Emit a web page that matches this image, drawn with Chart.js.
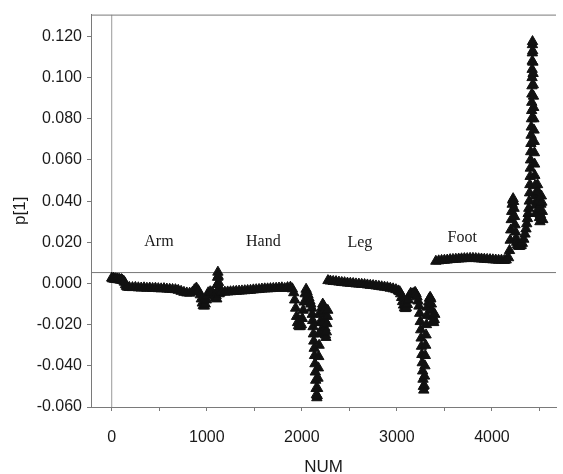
<!DOCTYPE html>
<html>
<head>
<meta charset="utf-8">
<script src="https://cdn.jsdelivr.net/npm/chart.js@4.4.1/dist/chart.umd.min.js"></script>
<style>
html,body{margin:0;padding:0;background:#fff;}
#wrap{width:563px;height:474px;position:relative;}
</style>
</head>
<body>
<div id="wrap"><canvas id="c" width="563" height="474"></canvas></div>
<script>
// ---- data ----
const num = [
  0,10,20,31,42,52,63,73,83,93,104,114,125,135,145,155,166,
  186,218,249,280,310,340,370,400,430,460,490,520,550,580,610,640,670,700,730,760,790,820,850,870,891,912,
  932,943,953,963,974,984,995,1005,1015,1036,1057,1077,1088,1098,
  1105,1108,1111,1114,1117,1120,1123,1126,1130,1140,
  1160,1190,1220,1250,1280,1310,1340,1370,1400,1430,1460,1490,1520,1550,1580,1610,1640,1670,1700,1730,1760,1790,1820,1850,1880,1900,
  1915,1925,1935,1945,1955,1965,1975,1985,1995,2005,2015,2025,2035,2045,2055,2065,2075,2085,2095,
  2105,2110,2114,2118,2122,2126,2130,2134,2138,2142,2146,2150,2154,2158,2162,2166,2170,2174,2178,2182,2186,2190,2194,
  2200,2205,2210,2215,2220,2226,2232,2238,2243,2248,2253,2258,2263,2268,2273,
  2275,2300,2330,2360,2390,2420,2450,2480,2510,2540,2570,2600,2630,2660,2690,2720,2750,2780,2810,2840,2870,2900,2930,2960,2990,3015,
  3030,3040,3050,3060,3070,3080,3090,3100,3110,3120,3130,3145,3160,3172,3182,3192,3202,3212,
  3222,3232,3240,3246,3251,3255,3259,3263,3267,3271,3275,3279,3283,3287,3291,3295,3299,3303,3307,3311,3315,3320,
  3335,3343,3350,3357,3363,3369,3375,3381,3387,3393,3399,
  3410,3440,3470,3500,3530,3560,3590,3620,3650,3680,3710,3740,3770,3800,3830,3860,3890,3920,3950,3980,4010,4040,4070,4100,4130,4150,
  4175,4185,4192,4198,4203,4208,4213,4218,4223,4228,4233,4238,4243,4248,4254,4260,4268,4278,4288,4298,4308,
  4320,4335,4348,4358,4366,4374,4381,4388,
  4393,4396,4399,4402,4404,4406,4408,4410,4412,4414,4416,4418,4419,4420,4421,4422,4423,4424,4425,4426,4427,
  4429,4431,4433,4435,4437,4439,4441,4443,4445,4447,4449,4451,4453,4456,4459,4462,
  4470,4475,4480,4485,4490,4495,4500,4505,4510,4515,4520,4525,4530,4535
];
const p1 = [
  0.0026,0.0022,0.0025,0.0020,0.0023,0.0019,0.0022,0.0018,0.0020,0.0016,0.0019,0.0015,0.0012,0.0006,-0.0006,-0.0014,-0.0018,
  -0.0019,-0.0020,-0.0019,-0.0021,-0.0022,-0.0021,-0.0023,-0.0022,-0.0024,-0.0023,-0.0025,-0.0026,-0.0025,-0.0027,-0.0028,-0.0029,-0.0030,-0.0033,-0.0038,-0.0043,-0.0046,-0.0047,-0.0042,-0.0030,-0.0022,-0.0035,
  -0.0055,-0.0075,-0.0095,-0.0108,-0.0110,-0.0100,-0.0080,-0.0060,-0.0045,-0.0040,-0.0042,-0.0055,-0.0070,-0.0060,
  -0.0075,-0.0040,-0.0005,0.0030,0.0055,0.0035,0.0005,-0.0030,-0.0050,-0.0045,
  -0.0040,-0.0042,-0.0041,-0.0040,-0.0039,-0.0038,-0.0037,-0.0036,-0.0035,-0.0034,-0.0033,-0.0031,-0.0030,-0.0029,-0.0027,-0.0026,-0.0026,-0.0025,-0.0024,-0.0023,-0.0022,-0.0021,-0.0024,-0.0020,-0.0018,-0.0026,
  -0.0045,-0.0080,-0.0120,-0.0160,-0.0190,-0.0205,-0.0210,-0.0208,-0.0200,-0.0170,-0.0130,-0.0090,-0.0050,-0.0028,-0.0040,-0.0055,-0.0070,-0.0085,-0.0100,
  -0.0120,-0.0150,-0.0180,-0.0210,-0.0245,-0.0280,-0.0315,-0.0350,-0.0390,-0.0430,-0.0470,-0.0510,-0.0540,-0.0555,-0.0545,-0.0510,-0.0460,-0.0410,-0.0355,-0.0300,-0.0245,-0.0190,-0.0140,
  -0.0230,-0.0190,-0.0150,-0.0115,-0.0100,-0.0105,-0.0135,-0.0175,-0.0215,-0.0250,-0.0262,-0.0235,-0.0195,-0.0160,-0.0130,
  0.0014,0.0012,0.0010,0.0009,0.0007,0.0005,0.0004,0.0002,0.0001,0.0000,-0.0002,-0.0003,-0.0004,-0.0005,-0.0007,-0.0009,-0.0010,-0.0012,-0.0014,-0.0016,-0.0018,-0.0020,-0.0023,-0.0026,-0.0030,-0.0036,
  -0.0040,-0.0050,-0.0068,-0.0088,-0.0105,-0.0118,-0.0122,-0.0118,-0.0102,-0.0080,-0.0060,-0.0048,-0.0050,-0.0052,-0.0046,-0.0043,-0.0050,-0.0065,
  -0.0085,-0.0110,-0.0145,-0.0185,-0.0225,-0.0265,-0.0305,-0.0345,-0.0385,-0.0425,-0.0465,-0.0500,-0.0518,-0.0495,-0.0450,-0.0400,-0.0350,-0.0300,-0.0250,-0.0200,-0.0155,-0.0115,
  -0.0090,-0.0072,-0.0067,-0.0075,-0.0100,-0.0130,-0.0160,-0.0182,-0.0190,-0.0175,-0.0150,
  0.0108,0.0110,0.0112,0.0113,0.0114,0.0116,0.0117,0.0118,0.0119,0.0120,0.0121,0.0121,0.0122,0.0122,0.0121,0.0120,0.0119,0.0118,0.0117,0.0116,0.0115,0.0114,0.0113,0.0113,0.0112,0.0114,
  0.0125,0.0160,0.0210,0.0260,0.0310,0.0350,0.0385,0.0405,0.0412,0.0398,0.0365,0.0325,0.0285,0.0250,0.0220,0.0200,0.0188,0.0182,0.0180,0.0182,0.0185,
  0.0195,0.0215,0.0240,0.0265,0.0290,0.0315,0.0340,0.0365,
  0.0400,0.0440,0.0480,0.0520,0.0560,0.0600,0.0640,0.0680,0.0720,0.0760,0.0800,0.0840,0.0880,0.0920,0.0960,0.1000,0.1040,0.1080,0.1120,0.1160,0.1175,
  0.1130,0.1075,0.1020,0.0965,0.0910,0.0855,0.0800,0.0745,0.0690,0.0635,0.0580,0.0525,0.0475,0.0425,0.0380,0.0340,
  0.0400,0.0450,0.0480,0.0445,0.0400,0.0360,0.0320,0.0300,0.0335,0.0385,0.0425,0.0395,0.0350,0.0310
];
const yTicks = [-0.060,-0.040,-0.020,0.000,0.020,0.040,0.060,0.080,0.100,0.120];
const xTicks = [0,500,1000,1500,2000,2500,3000,3500,4000,4500];
const xLabeled = [0,1000,2000,3000,4000];
const groupNames = ['Arm','Hand','Leg','Foot'];
const groupNum = [497,1595,2611,3688];
const groupP = [0.0202,0.0202,0.0197,0.0221];
const refLineP = 0.0053;   // horizontal reference line
const refLineNum = 0;      // vertical reference line
const xRange = [-218, 4674];
const yRange = [-0.0600, 0.1306];

const points = num.map((n,i)=>({x:n, y:p1[i]}));

const axisColor = '#7a7a7a';
const textColor = '#1a1a1a';
const sans = "'Liberation Sans', Arial, sans-serif";

const labelPlugin = {
  id:'groupLabels',
  afterDatasetsDraw(chart){
    const ctx = chart.ctx, xs = chart.scales.x, ys = chart.scales.y, a = chart.chartArea;
    ctx.save();
    ctx.strokeStyle = axisColor; ctx.lineWidth = 1;
    ctx.beginPath(); ctx.moveTo(a.left, a.top+0.5); ctx.lineTo(a.right, a.top+0.5); ctx.stroke();
    ctx.fillStyle = textColor;
    ctx.font = "16px 'Liberation Serif', 'Times New Roman', serif";
    ctx.textAlign = 'center'; ctx.textBaseline = 'middle';
    groupNames.forEach((g,i)=>{
      ctx.fillText(g, xs.getPixelForValue(groupNum[i]), ys.getPixelForValue(groupP[i]));
    });
    ctx.restore();
  }
};

new Chart(document.getElementById('c'), {
  type:'scatter',
  data:{
    datasets:[
      {
        label:'p[1]', data:points, order:1,
        pointStyle:'triangle', pointRadius:6, pointHoverRadius:6,
        backgroundColor:'#111', borderColor:'#111', borderWidth:1
      },
      {
        type:'line', data:[{x:xRange[0],y:refLineP},{x:xRange[1],y:refLineP}], order:2,
        borderColor:'#777', borderWidth:1, pointRadius:0, showLine:true, fill:false
      },
      {
        type:'line', data:[{x:refLineNum,y:yRange[0]},{x:refLineNum,y:yRange[1]}], order:2,
        borderColor:'#999', borderWidth:1, pointRadius:0, showLine:true, fill:false
      }
    ]
  },
  options:{
    responsive:false, animation:false,
    layout:{padding:{top:10,right:0,left:0,bottom:0}},
    plugins:{legend:{display:false}, tooltip:{enabled:false}},
    scales:{
      x:{
        type:'linear', min:xRange[0], max:xRange[1],
        afterBuildTicks(s){ s.ticks = xTicks.map(v=>({value:v})); },
        afterFit(s){ s.height = 67; },
        grid:{display:true, drawOnChartArea:false, drawTicks:true, tickLength:4, color:axisColor},
        border:{display:true, color:axisColor},
        ticks:{
          color:textColor, font:{family:sans, size:16}, padding:17, maxRotation:0, autoSkip:false,
          callback:(v)=> xLabeled.includes(v) ? String(v) : ''
        },
        title:{display:true, text:'NUM', color:textColor, font:{family:sans, size:17}, padding:{top:0,bottom:-4}}
      },
      y:{
        type:'linear', min:yRange[0], max:yRange[1],
        afterBuildTicks(s){ s.ticks = yTicks.map(v=>({value:v})); },
        afterFit(s){ s.width = 91; },
        grid:{display:true, drawOnChartArea:false, drawTicks:true, tickLength:4, color:axisColor},
        border:{display:true, color:axisColor},
        ticks:{
          color:textColor, font:{family:sans, size:16}, padding:5, autoSkip:false,
          callback:(v)=> Number(v).toFixed(3)
        },
        title:{display:true, text:'p[1]', color:textColor, font:{family:sans, size:17}, padding:{top:10,bottom:0}}
      }
    }
  },
  plugins:[labelPlugin]
});
</script>
</body>
</html>
